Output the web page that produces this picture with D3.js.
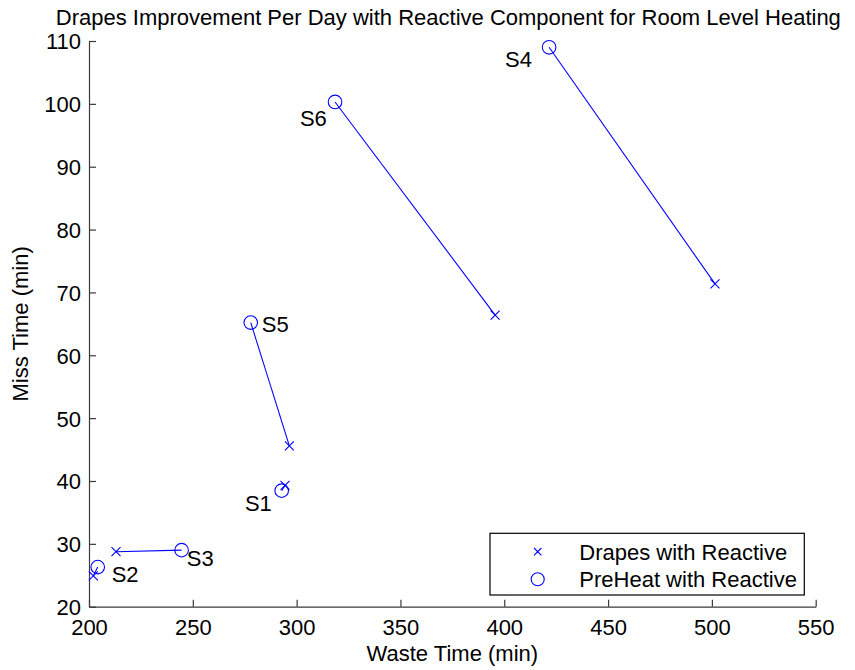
<!DOCTYPE html>
<html>
<head>
<meta charset="utf-8">
<script src="https://cdn.jsdelivr.net/npm/d3@7/dist/d3.min.js"></script>
<style>
  html, body { margin: 0; padding: 0; background: #fff; }
  svg { display: block; font-family: "Liberation Sans", Arial, Helvetica, sans-serif; }
</style>
</head>
<body>
<svg id="chart" width="855" height="670"></svg>
<script>
// ---- data ----
const sites = ["S1", "S2", "S3", "S4", "S5", "S6"];
const drapesWaste  = [294.4, 202.1, 213.0, 501.5, 296.5, 395.6];
const drapesMiss   = [39.3, 24.9, 28.75, 71.35, 45.6, 66.4];
const preheatWaste = [292.8, 204.2, 244.6, 421.6, 277.9, 318.5];
const preheatMiss  = [38.46, 26.3, 29.0, 109.0, 65.2, 100.3];
const labelWaste   = [275.1, 210.9, 247.1, 400.4, 283.2, 301.6];
const labelMiss    = [35.3, 23.9, 26.5, 105.9, 63.7, 96.4];
const xTicks = [200, 250, 300, 350, 400, 450, 500, 550];
const yTicks = [20, 30, 40, 50, 60, 70, 80, 90, 100, 110];
const seriesNames = ["Drapes with Reactive", "PreHeat with Reactive"];
const titleText = "Drapes Improvement Per Day with Reactive Component for Room Level Heating";
const xLabel = "Waste Time (min)";
const yLabel = "Miss Time (min)";

// ---- layout ----
const plotL = 89, plotR = 815.7, plotT = 41, plotB = 606.7;
const FS = 22;
const blue = "#0000ff";
const svg = d3.select("#chart");

const x = d3.scaleLinear().domain([200, 550]).range([plotL, plotR]);
const y = d3.scaleLinear().domain([20, 110]).range([plotB, plotT]);

// axes (MATLAB style: ticks inward, box off)
const xAxis = d3.axisBottom(x).tickValues(xTicks).tickSizeInner(-7).tickSizeOuter(0).tickPadding(13).tickFormat(d3.format("d"));
const yAxis = d3.axisLeft(y).tickValues(yTicks).tickSizeInner(-7).tickSizeOuter(0).tickPadding(8).tickFormat(d3.format("d"));

const gx = svg.append("g").attr("transform", `translate(0,${plotB})`).call(xAxis);
const gy = svg.append("g").attr("transform", `translate(${plotL},0)`).call(yAxis);
[gx, gy].forEach(g => {
  g.selectAll("path.domain").attr("stroke", "#3a3a3a").attr("stroke-width", 1.2);
  g.selectAll(".tick line").attr("stroke", "#3a3a3a").attr("stroke-width", 1.2);
  g.selectAll(".tick text").attr("fill", "#000").attr("font-size", FS)
   .attr("font-family", "'Liberation Sans', Arial, Helvetica, sans-serif");
});
gx.selectAll(".tick text").attr("dy", "0.71em");
gy.selectAll(".tick text").attr("dy", "0.36em");

// connecting lines
const pairs = sites.map((s, i) => ({
  s, dx: drapesWaste[i], dy: drapesMiss[i], px: preheatWaste[i], py: preheatMiss[i],
  lx: labelWaste[i], ly: labelMiss[i]
}));

svg.append("g").selectAll("line").data(pairs).join("line")
  .attr("x1", d => x(d.dx)).attr("y1", d => y(d.dy))
  .attr("x2", d => x(d.px)).attr("y2", d => y(d.py))
  .attr("stroke", blue).attr("stroke-width", 1.1);

// cross markers
function cross(g, cx, cy, r) {
  g.append("path")
    .attr("d", `M${cx - r},${cy - r}L${cx + r},${cy + r}M${cx - r},${cy + r}L${cx + r},${cy - r}`)
    .attr("stroke", blue).attr("stroke-width", 1.1).attr("fill", "none");
}
const gm = svg.append("g");
pairs.forEach(d => cross(gm, x(d.dx), y(d.dy), 4.5));
gm.selectAll("circle").data(pairs).join("circle")
  .attr("cx", d => x(d.px)).attr("cy", d => y(d.py)).attr("r", 6.8)
  .attr("fill", "none").attr("stroke", blue).attr("stroke-width", 1.1);

// site labels
svg.append("g").selectAll("text").data(pairs).join("text")
  .attr("x", d => x(d.lx)).attr("y", d => y(d.ly))
  .attr("font-size", FS).attr("fill", "#000").text(d => d.s);

// title & axis labels
svg.append("text").attr("x", (plotL + plotR) / 2 - 4).attr("y", 25)
  .attr("text-anchor", "middle").attr("font-size", FS).attr("fill", "#000").text(titleText);
svg.append("text").attr("x", (plotL + plotR) / 2).attr("y", 661)
  .attr("text-anchor", "middle").attr("font-size", FS).attr("fill", "#000").text(xLabel);
svg.append("text").attr("transform", `translate(28,${(plotT + plotB) / 2}) rotate(-90)`)
  .attr("text-anchor", "middle").attr("font-size", FS).attr("fill", "#000").text(yLabel);

// legend
const lg = svg.append("g");
lg.append("rect").attr("x", 490).attr("y", 533.3).attr("width", 314.3).attr("height", 61.7)
  .attr("fill", "#fff").attr("stroke", "#000").attr("stroke-width", 1.2);
cross(lg, 537.7, 551.7, 3.7);
lg.append("circle").attr("cx", 537.7).attr("cy", 579.3).attr("r", 6.5)
  .attr("fill", "none").attr("stroke", blue).attr("stroke-width", 1.1);
lg.selectAll("text.lt").data(seriesNames).join("text").attr("class", "lt")
  .attr("x", 579.3).attr("y", (d, i) => 551.7 + i * 27.6 + 7.8)
  .attr("font-size", FS).attr("fill", "#000").text(d => d);
</script>
</body>
</html>
